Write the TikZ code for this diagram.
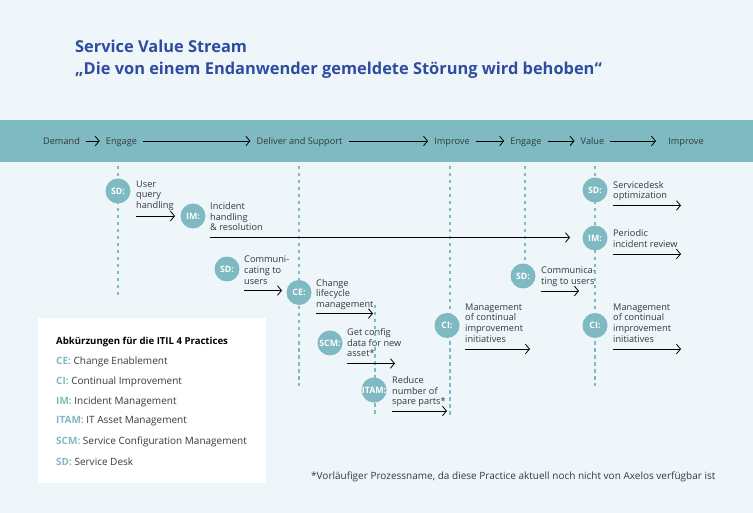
\documentclass[tikz,border=0pt]{standalone}
\usepackage{fontspec}
\setmainfont{Open Sans}
\usetikzlibrary{arrows.meta}
\definecolor{bgcol}{HTML}{EFF6F9}
\definecolor{bandcol}{HTML}{7FB9C1}
\definecolor{titlecol}{HTML}{2F4CA0}
\definecolor{txtcol}{HTML}{333A3D}
\tikzset{
  flow/.style={draw=black,line width=.8pt,-{Straight Barb[length=4pt,width=9.5pt]}},
  lane/.style={draw=bandcol,line width=1.1pt,dash pattern=on 3.5pt off 3.5pt},
  head/.style={font=\fontsize{9.2}{10.5}\selectfont,text=txtcol,inner xsep=6pt,inner ysep=0pt,text height=10pt,text depth=2pt},
  prac/.style={circle,fill=bandcol,text=white,minimum size=25pt,inner sep=0pt,font=\fontsize{8.8}{10}\selectfont\bfseries},
  step text/.style={anchor=north west,align=left,inner sep=0pt,yshift=-1.5pt,text=txtcol,font=\fontsize{9.2}{10.6}\selectfont},
  legend/.style={anchor=west,inner sep=0pt,text=txtcol,font=\fontsize{10}{12}\selectfont},
  title/.style={anchor=west,inner sep=0pt,text=titlecol,font=\fontsize{16.4}{19}\selectfont\bfseries}
}
\newcommand{\abbr}[1]{\textcolor{bandcol}{\textbf{#1:}}}
\begin{document}
\begin{tikzpicture}[x=1pt,y=-1pt]
\useasboundingbox (0,0) rectangle (753,513);
\fill[bgcol] (0,0) rectangle (753,513);
\fill[bandcol] (0,120) rectangle (753,162);
\fill[white] (37.5,318) rectangle (265.5,483);
\node[title] (titleA) at (75,46.5) {Service Value Stream};
\node[title] (titleB) at (75,70) {„Die von einem Endanwender gemeldete Störung wird behoben“};
\foreach \name/\x/\lab in {demand/61.5/Demand,engageA/121.5/Engage,deliver/299.5/Deliver and Support,improveA/452/Improve,engageB/526/Engage,value/592.5/Value,improveB/686/Improve}
  \node[head] (\name) at (\x,141) {\lab};
\foreach \a/\b in {demand/engageA,engageA/deliver,deliver/improveA,improveA/engageB,engageB/value}
  \draw[flow] (\a) -- (\b);
\coordinate (valueEnd) at (656,141);
\draw[flow] (value) -- (valueEnd);
\node[step text] (userT) at (136,179) {User\\query\\handling};
\node[step text] (incT) at (210,201) {Incident\\handling\\\& resolution};
\node[step text] (commT) at (244,254.5) {Communi-\\cating to\\users};
\node[step text] (changeT) at (316,277.5) {Change\\lifecycle\\management};
\node[step text] (getT) at (347,327) {Get config\\data for new\\asset*};
\node[step text] (reduceT) at (392,375) {Reduce\\number of\\spare parts*};
\node[step text] (ciAT) at (465,302) {Management\\of continual\\improvement\\initiatives};
\node[step text] (commBT) at (541,265) {Communica-\\ting to users};
\node[step text] (deskT) at (613,179.5) {Servicedesk\\optimization};
\node[step text] (reviewT) at (613,228) {Periodic\\incident review};
\node[step text] (ciBT) at (613,302) {Management\\of continual\\improvement\\initiatives};
\foreach \name/\x/\a/\b in {laneA/118/166/298,laneB/299/166/386,laneC/450/166/416,laneD/525/166/264,laneE/595/166/386,laneF/375/305/416}{
  \coordinate (\name top) at (\x,\a);
  \coordinate (\name end) at (\x,\b);
  \draw[lane] (\name top) -- (\name end);
}
\foreach \name/\x/\y/\lab in {sdA/118/191/SD:,imA/193/216/IM:,sdB/227/269/SD:,ce/299/292.5/CE:,scm/330/343/SCM:,itam/374/390/ITAM:,ciA/447/325.5/CI:,sdC/523/276/SD:,sdD/595/190/SD:,imB/595/238/IM:,ciB/595/325.5/CI:}
  \node[prac] (\name) at (\x,\y) {\lab};
\foreach \name/\xa/\xb/\y in {user/136/175/216,comm/244/282/290.5,change/316/373/313.5,get/347/395/363.5,reduce/392/447/411,ciA/465/530/349,commB/541/579/291,desk/613/681/205.5,review/613/681/254,ciB/613/681/349,inc/210/570/237.5}{
  \coordinate (\name From) at (\xa,\y);
  \coordinate (\name To) at (\xb,\y);
  \draw[flow] (\name From) -- (\name To);
}
\node[legend,font=\fontsize{9.6}{12}\selectfont\bfseries,text=black] (lgHead) at (56,341.5) {Abkürzungen für die ITIL 4 Practices};
\node[legend] (lgCE) at (56,361.5) {\abbr{CE} Change Enablement};
\node[legend] (lgCI) at (56,381.5) {\abbr{CI} Continual Improvement};
\node[legend] (lgIM) at (56,401.5) {\abbr{IM} Incident Management};
\node[legend] (lgITAM) at (56,421.5) {\abbr{ITAM} IT Asset Management};
\node[legend] (lgSCM) at (56,441.5) {\abbr{SCM} Service Configuration Management};
\node[legend] (lgSD) at (56,461.5) {\abbr{SD} Service Desk};
\node[legend] (note) at (311,476.5) {*Vorläufiger Prozessname, da diese Practice aktuell noch nicht von Axelos verfügbar ist};
\end{tikzpicture}
\end{document}
